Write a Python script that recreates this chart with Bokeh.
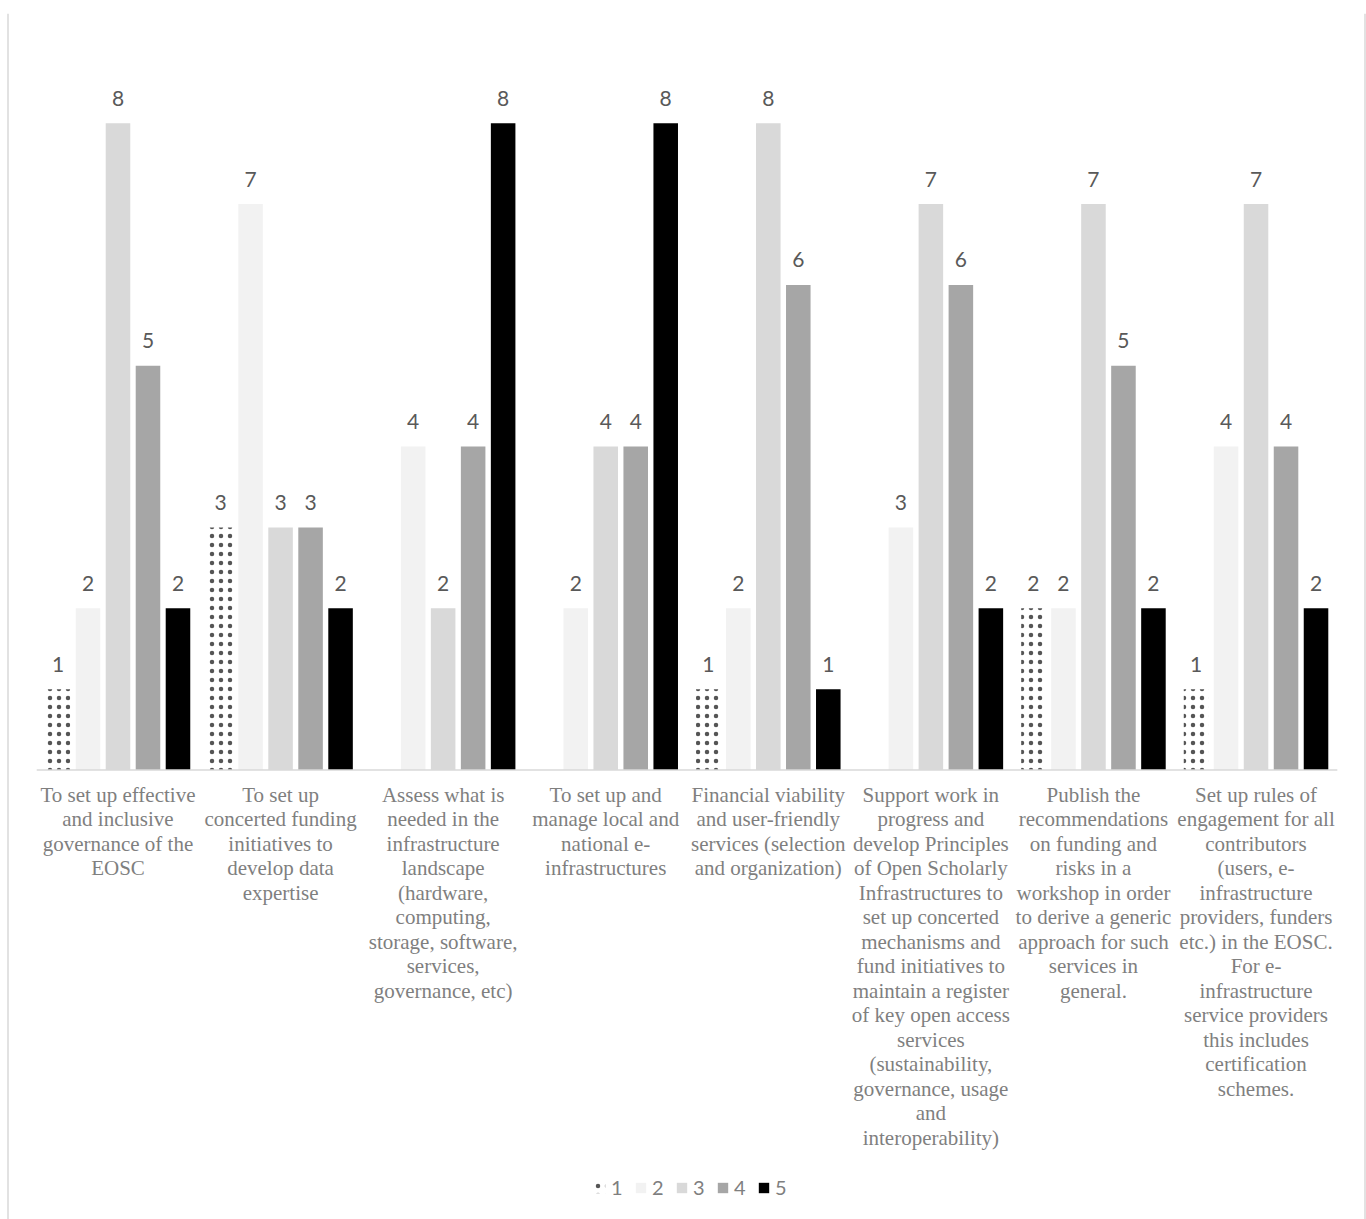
from bokeh.plotting import figure
from bokeh.models import Range1d, Legend, LegendItem, Span, ColumnDataSource
from bokeh.core.properties import value
from bokeh.embed import file_html
from bokeh.resources import INLINE

# ---------------- data ----------------
categories = [
    "To set up effective\nand inclusive\ngovernance of the\nEOSC",
    "To set up\nconcerted funding\ninitiatives to\ndevelop data\nexpertise",
    "Assess what is\nneeded in the\ninfrastructure\nlandscape\n(hardware,\ncomputing,\nstorage, software,\nservices,\ngovernance, etc)",
    "To set up and\nmanage local and\nnational e-\ninfrastructures",
    "Financial viability\nand user-friendly\nservices (selection\nand organization)",
    "Support work in\nprogress and\ndevelop Principles\nof Open Scholarly\nInfrastructures to\nset up concerted\nmechanisms and\nfund initiatives to\nmaintain a register\nof key open access\nservices\n(sustainability,\ngovernance, usage\nand\ninteroperability)",
    "Publish the\nrecommendations\non funding and\nrisks in a\nworkshop in order\nto derive a generic\napproach for such\nservices in\ngeneral.",
    "Set up rules of\nengagement for all\ncontributors\n(users, e-\ninfrastructure\nproviders, funders\netc.) in the EOSC.\nFor e-\ninfrastructure\nservice providers\nthis includes\ncertification\nschemes.",
]
series_names = ["1", "2", "3", "4", "5"]
s1 = [1, 3, None, None, 1, None, 2, 1]
s2 = [2, 7, 4, 2, 2, 3, 2, 4]
s3 = [8, 3, 2, 4, 8, 7, 7, 7]
s4 = [5, 3, 4, 4, 6, 6, 5, 4]
s5 = [2, 2, 8, 8, 1, 2, 2, 2]
series_values = [s1, s2, s3, s4, s5]

# ---------------- styles ----------------
colors = ["#ffffff", "#f2f2f2", "#d9d9d9", "#a6a6a6", "#000000"]
pitch = 0.1845
bar_w = 0.151
LABEL_GRAY = "#7f7f7f"
NUM_GRAY = "#595959"

W, H = 1366, 1219
p = figure(width=W, height=H, output_backend="svg", toolbar_location=None,
           x_range=Range1d(-0.2227, 8.1795), y_range=Range1d(-5.560, 9.357),
           x_axis_location=None, y_axis_location=None,
           min_border=0, min_border_top=13)
p.min_border_left = 0
p.min_border_right = 0
p.min_border_bottom = 0
p.outline_line_color = None
p.xgrid.visible = False
p.ygrid.visible = False
p.background_fill_color = "white"
p.border_fill_color = "white"

# chart border (left / right)
p.add_layout(Span(location=7.5, location_units="screen", dimension="height",
                  line_color="#d9d9d9", line_width=1.5))
p.add_layout(Span(location=W - 1.5, location_units="screen", dimension="height",
                  line_color="#d9d9d9", line_width=1.5))

n = len(categories)
renderers = []
for si, vals in enumerate(series_values):
    xs = [i + 0.5 + (si - 2) * pitch for i in range(n)]
    tops = [float("nan") if v is None else v for v in vals]
    src = ColumnDataSource(dict(x=xs, top=tops))
    if si == 0:
        r = p.vbar(x="x", top="top", bottom=0, width=bar_w, source=src,
                   fill_color="white", line_color=None,
                   hatch_pattern="dot", hatch_color="#555555",
                   hatch_scale=9, hatch_weight=0.7)
    else:
        r = p.vbar(x="x", top="top", bottom=0, width=bar_w, source=src,
                   fill_color=colors[si], line_color=None)
    renderers.append(r)
    lx = [x for x, v in zip(xs, vals) if v is not None]
    ly = [v for v in vals if v is not None]
    p.text(x=lx, y=ly, text=[str(v) for v in ly], text_align="center",
           text_baseline="alphabetic", y_offset=-25,
           text_font=value("Lato"), text_font_size="21px", text_color=NUM_GRAY)

# category axis line
p.segment(x0=[0], y0=[0], x1=[n], y1=[0], line_color="#d9d9d9", line_width=1.5)

# category labels
p.text(x=[i + 0.5 for i in range(n)], y=[-0.16] * n, text=categories,
       text_align="center", text_baseline="top", text_line_height=1.02,
       text_font=value("Liberation Serif"), text_font_size="21px",
       text_color=LABEL_GRAY)

legend = Legend(items=[LegendItem(label=nm, renderers=[r]) for nm, r in zip(series_names, renderers)],
                orientation="horizontal", location=(593, 20),
                glyph_width=13, glyph_height=13, label_standoff=5,
                label_width=12, spacing=11, padding=0, margin=0,
                label_text_font="Lato", label_text_font_size="20px",
                label_text_color=LABEL_GRAY,
                border_line_color=None, background_fill_alpha=0)
p.add_layout(legend)

open("out.html", "w").write(file_html(p, INLINE))
